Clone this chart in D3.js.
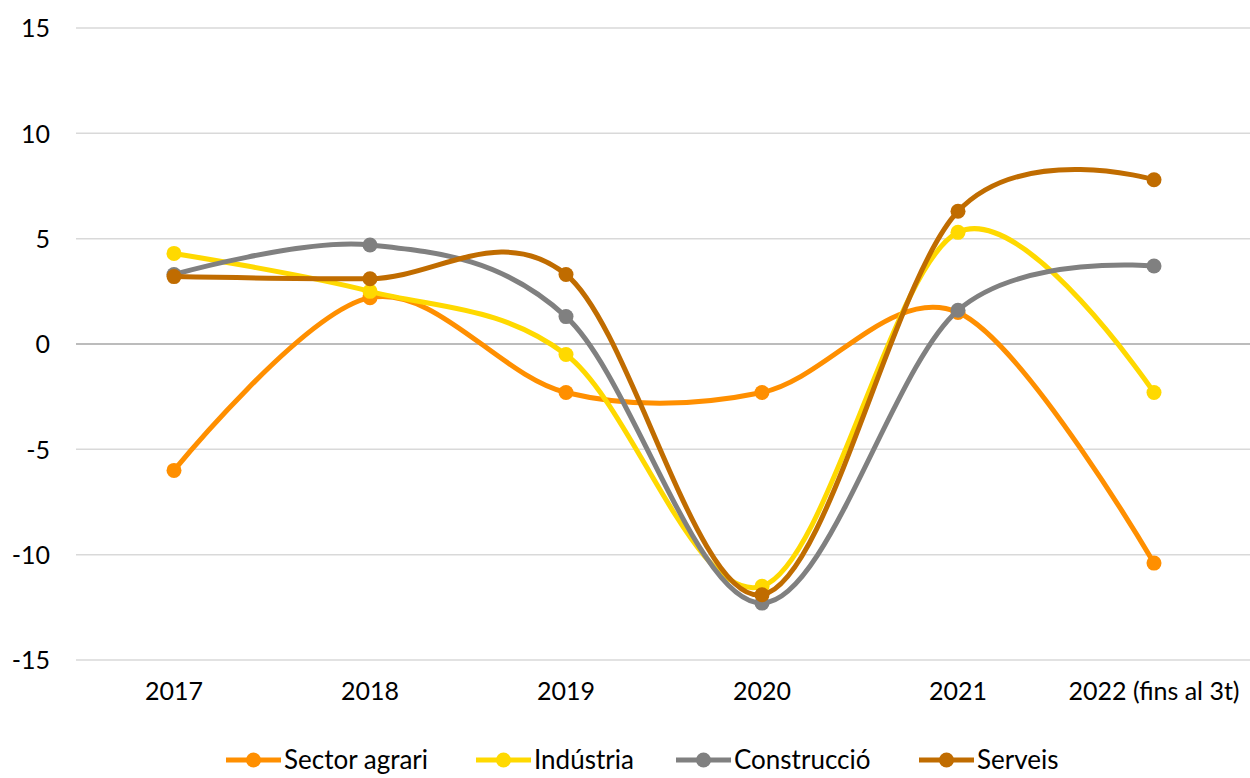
<!DOCTYPE html>
<html><head><meta charset="utf-8">
<script src="https://cdn.jsdelivr.net/npm/d3@7"></script>
<style>body{margin:0;background:#fff;} svg{display:block;font-family:Lato,"Open Sans",sans-serif;}</style>
</head><body>
<svg id="c" width="1250" height="778"></svg>
<script>
const categories = ["2017","2018","2019","2020","2021","2022 (fins al 3t)"];
const yTicks = [-15,-10,-5,0,5,10,15];
const seriesNames = ["Sector agrari","Indústria","Construcció","Serveis"];
const sectorAgrari = [-6.0, 2.2, -2.3, -2.3, 1.5, -10.4];
const industria = [4.3, 2.5, -0.5, -11.5, 5.3, -2.3];
const construccio = [3.3, 4.7, 1.3, -12.3, 1.6, 3.7];
const serveis = [3.2, 3.1, 3.3, -11.9, 6.3, 7.8];
const colors = ["#FF8F00","#FFD900","#808080","#C06C00"];

const series = [sectorAgrari, industria, construccio, serveis].map((v,i)=>({name:seriesNames[i], values:v, color:colors[i]}));

const svg = d3.select("#c");
const x = d3.scaleBand().domain(categories).range([76,1252]);
const y = d3.scaleLinear().domain([-15,15]).range([660,28]);

// grid
svg.append("g").selectAll("line").data(yTicks).join("line")
  .attr("x1",76).attr("x2",1250)
  .attr("y1",d=>y(d)).attr("y2",d=>y(d))
  .attr("stroke",d=>d===0?"#a6a6a6":"#d9d9d9").attr("stroke-width",1.5);

// y axis labels
const yAxis = d3.axisLeft(y).tickValues(yTicks).tickSize(0).tickPadding(0).tickFormat(d=>String(d));
const ya = svg.append("g").attr("transform","translate(50,0)").call(yAxis);
ya.select(".domain").remove();
ya.selectAll("text").attr("font-size",25).attr("fill","#000").attr("font-family","Lato,sans-serif").attr("dy","0.35em");

// x axis labels
const xAxis = d3.axisBottom(x).tickSize(0).tickPadding(0);
const xa = svg.append("g").attr("transform","translate(0,682)").call(xAxis);
xa.select(".domain").remove();
xa.selectAll("text").attr("font-size",25).attr("fill","#000").attr("font-family","Lato,sans-serif").attr("dy","0.71em");

const cx = d => x(d) + x.bandwidth()/2;
const line = d3.line().x((d,i)=>cx(categories[i])).y(d=>y(d)).curve(d3.curveCatmullRom.alpha(0));

const g = svg.append("g");
series.forEach(s=>{
  g.append("path").attr("d",line(s.values)).attr("fill","none").attr("stroke",s.color).attr("stroke-width",5).attr("stroke-linecap","round");
  g.selectAll(null).data(s.values).join("circle")
   .attr("cx",(d,i)=>cx(categories[i])).attr("cy",d=>y(d)).attr("r",7.5).attr("fill",s.color);
});

// legend
const legX = [226,476,676,919];
const leg = svg.append("g");
series.forEach((s,i)=>{
  const lg = leg.append("g").attr("transform",`translate(${legX[i]},760)`);
  lg.append("line").attr("x1",0).attr("x2",55).attr("y1",0).attr("y2",0).attr("stroke",s.color).attr("stroke-width",5);
  lg.append("circle").attr("cx",27.5).attr("cy",0).attr("r",7.5).attr("fill",s.color);
  lg.append("text").attr("x",58).attr("y",0).attr("dy","0.35em").attr("font-size",26).attr("fill","#000").text(s.name);
});
</script>
</body></html>
